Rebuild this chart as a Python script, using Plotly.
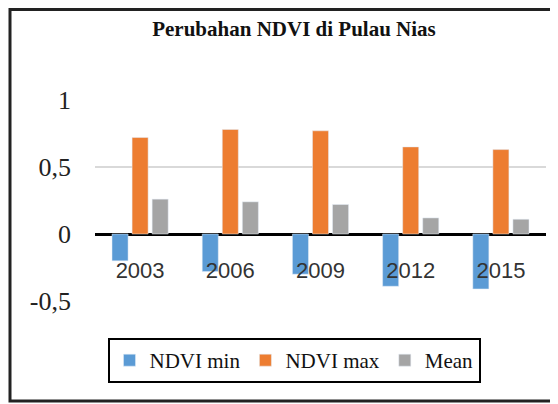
import plotly.graph_objects as go

years = ["2003", "2006", "2009", "2012", "2015"]
ndvi_min = [-0.20, -0.28, -0.30, -0.39, -0.41]
ndvi_max = [0.72, 0.78, 0.77, 0.65, 0.63]
mean_vals = [0.26, 0.24, 0.22, 0.12, 0.11]
y_tickvals = [-0.5, 0, 0.5, 1]
y_ticktext = ["-0,5", "0", "0,5", "1"]

# page body has an 8px default margin; figure is sized to fit inside
OFF = 8
W, H = 558 - OFF, 404 - OFF
L, R, T, B = 95 - OFF, 12, 100 - OFF, 103
PW, PH = W - L - R, H - T - B

fig = go.Figure()
fig.add_trace(go.Bar(x=years, y=ndvi_min, name="NDVI min", marker_color="#5B9BD5"))
fig.add_trace(go.Bar(x=years, y=ndvi_max, name="NDVI max", marker_color="#ED7D31"))
fig.add_trace(go.Bar(x=years, y=mean_vals, name="Mean", marker_color="#A5A5A5"))

ymin, ymax = -0.5, 1.0
zero_pos = (0 - ymin) / (ymax - ymin)

fig.update_layout(
    width=W, height=H,
    margin=dict(l=L, r=R, t=T, b=B, autoexpand=False),
    paper_bgcolor="white", plot_bgcolor="white",
    barmode="group", bargap=0.333, bargroupgap=0.2,
    title=dict(text="<b>Perubahan NDVI di Pulau Nias</b>",
               font=dict(family="Liberation Serif", size=21, color="#111"),
               x=(294 - OFF) / W, xanchor="center", xref="container",
               y=1 - (29 - OFF) / H, yanchor="middle", yref="container"),
    xaxis=dict(anchor="free", position=zero_pos, showline=False, ticks="",
               showgrid=False, ticklabelstandoff=21,
               tickfont=dict(family="Liberation Sans", size=22, color="#333")),
    yaxis=dict(range=[ymin, ymax], tickvals=y_tickvals, ticktext=y_ticktext,
               showgrid=True, gridcolor="#d9d9d9", gridwidth=1.5,
               zeroline=True, zerolinecolor="black", zerolinewidth=2.5,
               showline=False, ticks="", ticklabelstandoff=23,
               tickfont=dict(family="Liberation Serif", size=26, color="#222")),
    legend=dict(orientation="h", xref="paper", yref="paper",
                x=(294 - 95) / PW, xanchor="center",
                y=(404 - B - 338) / PH, yanchor="top",
                bordercolor="black", borderwidth=2, bgcolor="white",
                font=dict(family="Liberation Serif", size=21, color="#111"),
                itemwidth=30, traceorder="normal"),
    shapes=[dict(type="rect", xref="paper", yref="paper",
                 x0=-(L - 2) / PW, x1=1 + (R + 10) / PW,
                 y0=-(B - 3) / PH, y1=1 + (T - 1.5) / PH,
                 line=dict(color="#222", width=3), layer="above")],
)

fig.write_html("out.html")
